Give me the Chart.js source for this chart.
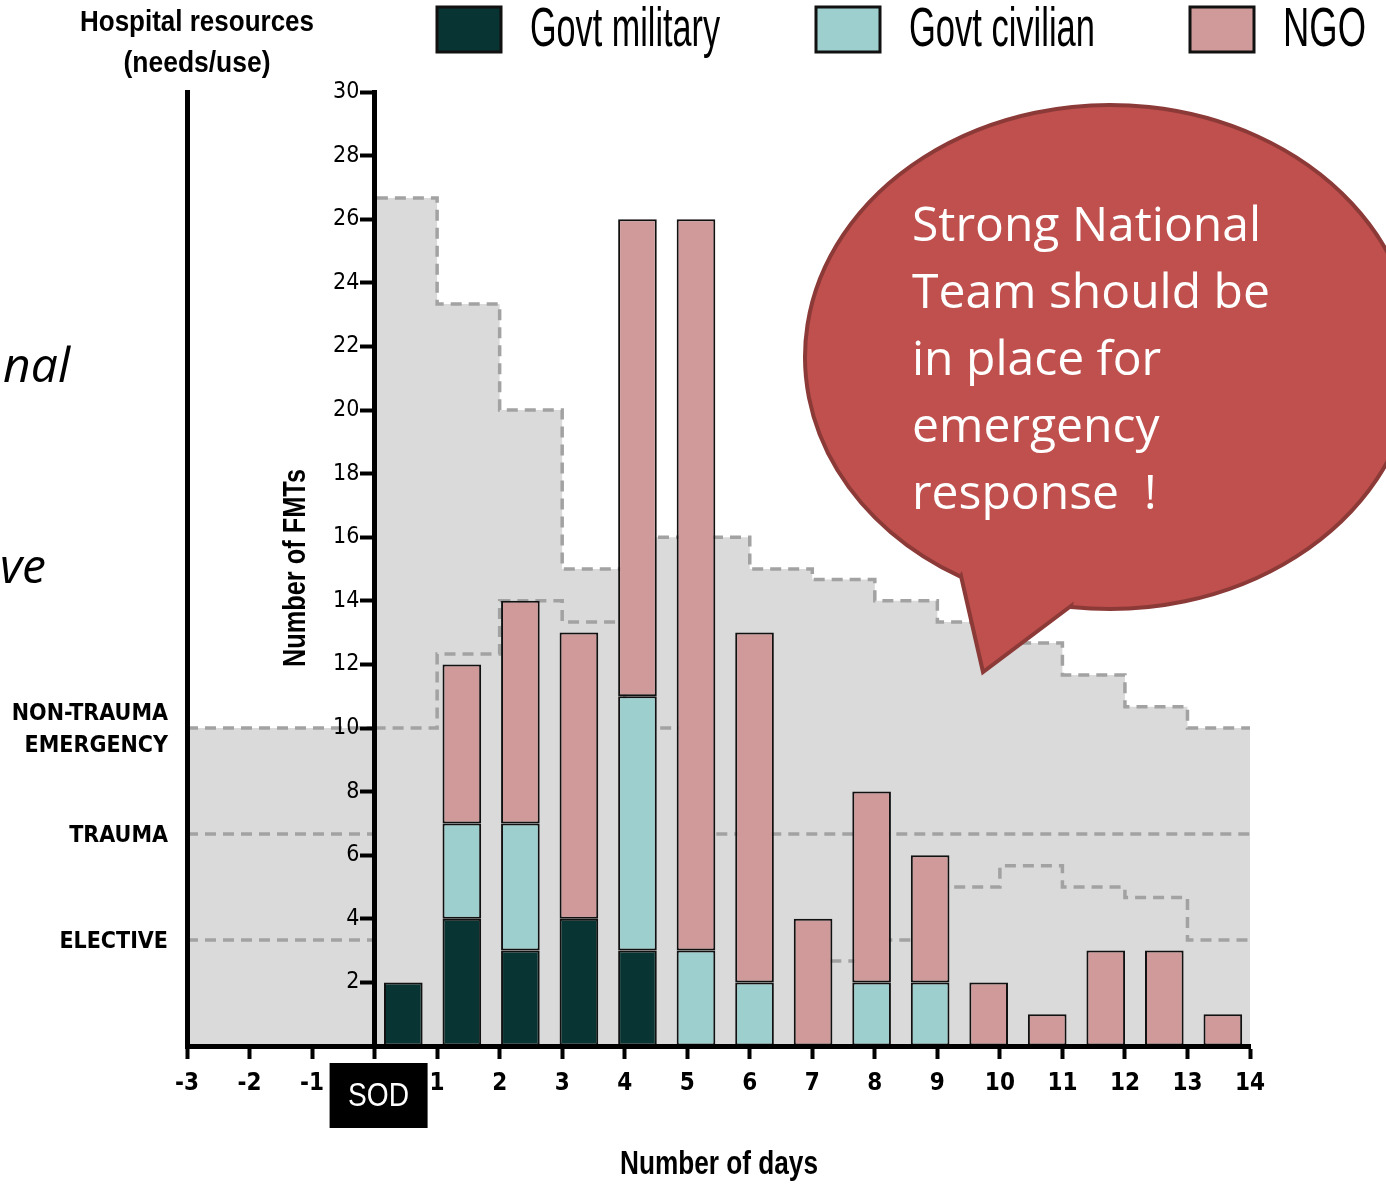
<!DOCTYPE html>
<html>
<head>
<meta charset="utf-8">
<title>FMTs by day</title>
<script src="https://cdn.jsdelivr.net/npm/chart.js@4.4.1/dist/chart.umd.min.js"></script>
<style>
  html, body { margin: 0; padding: 0; background: #fff; }
  #wrap { width: 1386px; height: 1184px; }
</style>
</head>
<body>
<div id="wrap"><canvas id="fmtChart" width="1386" height="1184"></canvas></div>
<script>
// ---- data ----
var barDays = [0, 1, 2, 3, 4, 5, 6, 7, 8, 9, 10, 11, 12, 13, 14];
var govtMilitary = [2, 4, 3, 4, 3, 0, 0, 0, 0, 0, 0, 0, 0, 0, 0];
var govtCivilian = [0, 3, 4, 0, 8, 3, 2, 0, 2, 2, 0, 0, 0, 0, 0];
var ngoTeams     = [0, 5, 7, 9, 15, 23, 11, 4, 6, 4, 2, 1, 3, 3, 1];

// hospital resource needs (step curves, x = day, y = level)
var needDays     = [-3, 0, 1, 2, 3, 4, 6, 7, 8, 9, 10, 11, 12, 13, 14];
var needLevels   = [10, 26.67, 23.33, 20, 15, 16, 15, 14.67, 14, 13.33, 12.67, 11.67, 10.67, 10, 10];
var lowerDays    = [0, 1, 2, 3, 4, 5, 14];
var lowerLevels  = [10, 12.33, 14, 13.33, 10, 6.67, 6.67];
var traumaDays   = [-3, 0];
var traumaLevels = [6.67, 6.67];
var electiveDays   = [-3, 0];
var electiveLevels = [3.33, 3.33];
var electiveLateDays   = [7, 8, 9, 10, 11, 12, 13, 14];
var electiveLateLevels = [2.67, 3.33, 5, 5.67, 5, 4.67, 3.33, 3.33];

var resourceLevels = [10, 6.67, 3.33];
var resourceLabels = [["NON-TRAUMA", "EMERGENCY"], "TRAUMA", "ELECTIVE"];

var seriesNames  = ["Govt military", "Govt civilian", "NGO"];
var seriesColors = ["#083433", "#9dcfcf", "#d09a9a"];

var NARROW = '"Liberation Sans Narrow", "Arial Narrow", "DejaVu Sans Condensed", sans-serif';
var ARIAL = '"Liberation Sans", Arial, sans-serif';
var CALIBRI = '"Open Sans", "Noto Sans", sans-serif';

function pts(xs, ys) {
    return xs.map(function (x, i) { return { x: x, y: ys[i] }; });
}

function barSet(label, color, values) {
    return {
        type: 'bar',
        label: label,
        data: barDays.map(function (d, i) { return { x: d, y: values[i] || null }; }),
        backgroundColor: color,
        borderColor: '#111',
        borderWidth: 2,
        borderSkipped: false,
        grouped: false,
        barPercentage: 0.66,
        categoryPercentage: 1,
        xAxisID: 'xb',
        yAxisID: 'y',
        stack: 'fmt',
        order: 1
    };
}

function dashed(label, data, order) {
    return {
        type: 'line',
        label: label,
        data: data,
        stepped: true,
        borderColor: '#a2a2a2',
        borderWidth: 3.5,
        borderDash: [11, 7],
        pointRadius: 0,
        fill: false,
        xAxisID: 'x',
        yAxisID: 'ya',
        order: order
    };
}

var needArea = dashed('needs', pts(needDays, needLevels), 3);
needArea.fill = 'origin';
needArea.backgroundColor = '#dadada';

// condensed-looking text: squeeze horizontally so it spans `w` pixels
function squeezed(ctx, text, x, y, font, w, align) {
    ctx.save();
    ctx.font = font;
    var m = ctx.measureText(text).width;
    ctx.translate(x, y);
    ctx.scale(w / m, 1);
    ctx.textAlign = align || 'center';
    ctx.fillText(text, 0, 0);
    ctx.restore();
}

// everything that isn't a chart mark: titles, SOD box, legend, callout
var overlay = {
    id: 'overlay',
    afterDraw: function (chart) {
        var ctx = chart.ctx;
        var xs = chart.scales.x;
        ctx.save();
        ctx.fillStyle = '#000';
        ctx.textBaseline = 'middle';

        squeezed(ctx, 'Hospital resources', 197, 23, 'bold 30px ' + ARIAL, 234);
        squeezed(ctx, '(needs/use)', 197, 64, 'bold 30px ' + ARIAL, 147);
        squeezed(ctx, 'Number of days', 719, 1165, 'bold 33px ' + ARIAL, 198);

        ctx.save();
        ctx.translate(296, 568);
        ctx.rotate(-Math.PI / 2);
        squeezed(ctx, 'Number of FMTs', 0, 0, 'bold 31px ' + ARIAL, 198);
        ctx.restore();

        // SOD marker under day 0
        var x0 = xs.getPixelForValue(0);
        ctx.fillRect(x0 - 45, 1063, 98, 65);
        ctx.fillStyle = '#fff';
        squeezed(ctx, 'SOD', x0 + 4, 1097, '34px ' + ARIAL, 61);

        // legend
        var boxX = [437, 816, 1190];
        var textW = [190, 186, 83];
        chart.data.datasets.filter(function (d) { return d.type === 'bar'; }).forEach(function (d, i) {
            ctx.fillStyle = d.backgroundColor;
            ctx.fillRect(boxX[i], 7, 64, 45);
            ctx.strokeStyle = '#111';
            ctx.lineWidth = 3;
            ctx.strokeRect(boxX[i], 7, 64, 45);
            ctx.fillStyle = '#000';
            squeezed(ctx, d.label, boxX[i] + 93, 31, '56px ' + ARIAL, textW[i], 'left');
        });

        // speech bubble
        var cx = 1110, cy = 357, rx = 305, ry = 252;
        var ax = 961, ay = 576, tipX = 983, tipY = 672, bx = 1071, by = 606;
        var tA = Math.atan2((ay - cy) / ry, (ax - cx) / rx);
        var tB = Math.atan2((by - cy) / ry, (bx - cx) / rx);
        ctx.beginPath();
        ctx.moveTo(ax, ay);
        ctx.lineTo(tipX, tipY);
        ctx.lineTo(bx, by);
        ctx.ellipse(cx, cy, rx, ry, 0, tB, tA, true);
        ctx.closePath();
        ctx.fillStyle = '#c0504d';
        ctx.fill();
        ctx.lineWidth = 4;
        ctx.strokeStyle = '#8c3a38';
        ctx.stroke();

        ctx.fillStyle = '#fff';
        ctx.textAlign = 'left';
        ctx.textBaseline = 'alphabetic';
        ctx.font = '48px ' + CALIBRI;
        ['Strong National', 'Team should be', 'in place for', 'emergency', 'response  !'].forEach(function (t, i) {
            ctx.fillText(t, 912, 241 + i * 67);
        });

        // clipped slide text at the far left
        ctx.fillStyle = '#000';
        ctx.textAlign = 'right';
        ctx.font = 'italic 48px ' + CALIBRI;
        ctx.fillText('nal', 70, 382);
        ctx.fillText('ve', 46, 583);
        ctx.restore();
    }
};

new Chart(document.getElementById('fmtChart'), {
    type: 'bar',
    data: {
        datasets: [
            barSet(seriesNames[0], seriesColors[0], govtMilitary),
            barSet(seriesNames[1], seriesColors[1], govtCivilian),
            barSet(seriesNames[2], seriesColors[2], ngoTeams),
            dashed('lower', pts(lowerDays, lowerLevels), 2),
            dashed('trauma', pts(traumaDays, traumaLevels), 2),
            dashed('elective', pts(electiveDays, electiveLevels), 2),
            dashed('elective late', pts(electiveLateDays, electiveLateLevels), 2),
            needArea
        ]
    },
    options: {
        responsive: false,
        animation: false,
        events: [],
        layout: { padding: { top: 92, right: 136, bottom: 0, left: 0 } },
        plugins: { legend: { display: false }, tooltip: { enabled: false } },
        scales: {
            x: {
                type: 'linear', position: 'bottom', min: -3, max: 14, offset: false,
                afterFit: function (s) { s.height = 138; },
                ticks: {
                    stepSize: 1, padding: 10, color: '#000', z: 1,
                    font: { family: NARROW, size: 24, weight: 'bold' },
                    callback: function (v) { return v === 0 ? '' : v; }
                },
                grid: { offset: false, drawOnChartArea: false, drawTicks: true, tickLength: 13, tickWidth: 4, tickColor: '#000', z: 1 },
                border: { color: '#000', width: 5, z: 1 }
            },
            // bars come from a second, hidden day axis (bar slots are a bit narrower than the day ticks)
            xb: {
                type: 'linear', display: false, min: -3.695, max: 14.464, offset: false, stacked: true,
                afterBuildTicks: function (s) {
                    s.ticks = barDays.map(function (v) { return { value: v }; });
                }
            },
            y: {
                type: 'linear', position: { x: 0 }, min: 0, max: 30, stacked: true,
                ticks: {
                    stepSize: 2, color: '#000', z: 1,
                    font: { family: NARROW, size: 23 },
                    callback: function (v) { return v === 0 ? '' : v + '  \u200a'; }
                },
                grid: { drawOnChartArea: false, drawTicks: true, tickLength: 12, tickWidth: 4, tickColor: '#000', z: 1 },
                border: { color: '#000', width: 5, z: 1 }
            },
            ya: { type: 'linear', display: false, min: 0, max: 30 },
            yRes: {
                type: 'linear', position: 'left', min: 0, max: 30,
                afterFit: function (s) { s.width = 187; },
                afterBuildTicks: function (s) {
                    s.ticks = resourceLevels.map(function (v) { return { value: v }; });
                },
                ticks: {
                    padding: 19, color: '#000', z: 1, labelOffset: 2,
                    font: { family: NARROW, size: 23, weight: 'bold', lineHeight: 1.4 },
                    callback: function (v, i) { return resourceLabels[i]; }
                },
                grid: { display: false, drawTicks: false },
                border: { color: '#000', width: 5, z: 1 }
            }
        }
    },
    plugins: [overlay]
});
</script>
</body>
</html>
